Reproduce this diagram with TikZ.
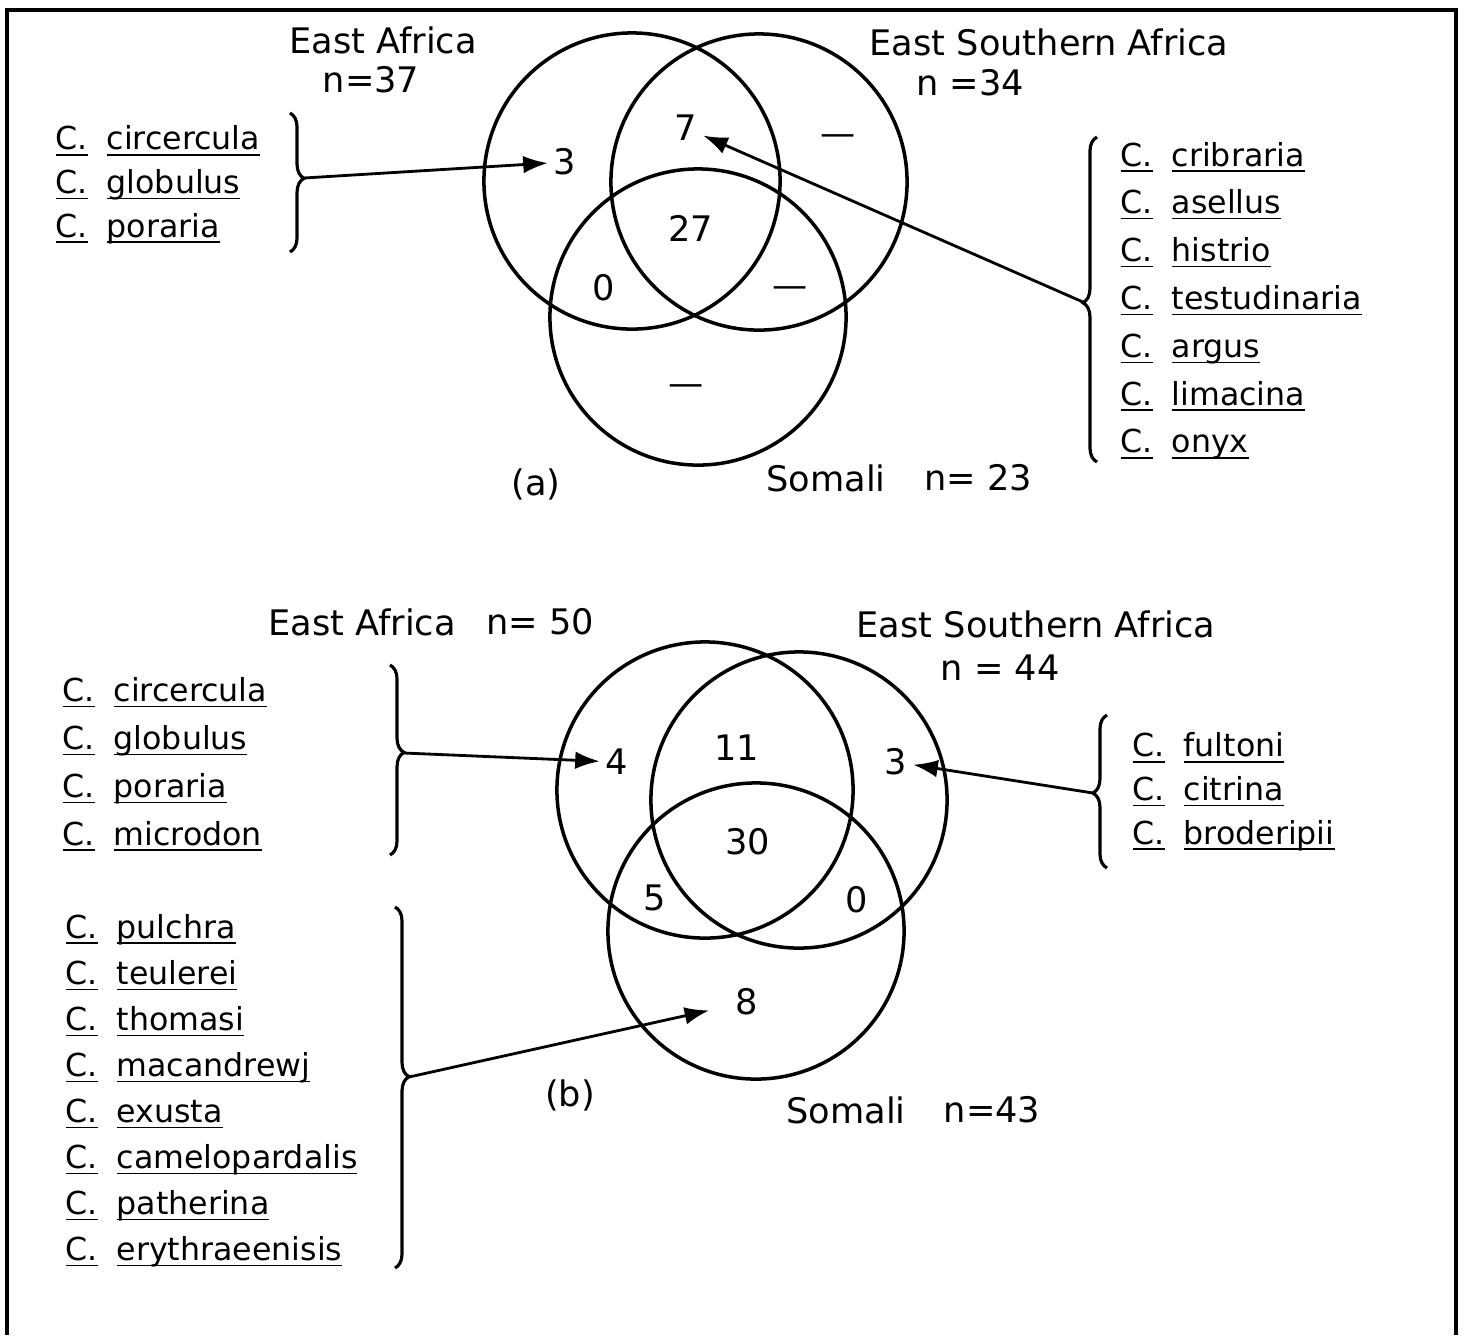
\documentclass[tikz,border=0pt]{standalone}
\usepackage{fontspec}
\setmainfont{DejaVu Sans}
\usepackage{tikz}
\usetikzlibrary{positioning, arrows.meta, decorations.pathreplacing}

\newcommand{\conus}[1]{\makebox[14.5pt][l]{\underline{\smash{C.}}}\underline{\smash{#1}}}

\tikzset{
    venn/.style={circle, draw, line width=1pt, minimum size=2.96cm, inner sep=0pt},
    region/.style={font=\fontsize{10}{12}\selectfont, inner sep=1.5pt},
    heading/.style={font=\fontsize{10}{12}\selectfont, inner sep=0pt},
    species/.style={align=left, anchor=west, inner sep=0pt},
    bracebar/.style={decorate, line width=0.9pt},
    pointer/.style={line width=0.8pt, -{Latex[length=7pt, width=5pt]}}
}

\begin{document}
\begin{tikzpicture}[x=0.01cm, y=-0.01cm]
    \useasboundingbox (0,0) rectangle (1463,1335);
    \draw[line width=1pt] (7,1335) -- (7,10) -- (1456,10) -- (1456,1335);

    % (a)
    \node[venn] (eastA) at (632,181) {};
    \node[venn] (esafA) at (759,182) {};
    \node[venn] (somA) at (698,317) {};

    \node[heading] (eastAname) at (383,40) {East Africa};
    \node[heading] (eastAn) at (371,80) {n=37};
    \node[heading] (esafAname) at (1049,42) {East Southern Africa};
    \node[heading] (esafAn) at (970,83) {n =34};
    \node[heading] (somAname) at (826,478) {Somali};
    \node[heading] (somAn) at (978,478) {n= 23};
    \node[heading] (capA) at (536,484) {(a)};

    \node[region] (n3a) at (565,162) {3};
    \node[region] (n7a) at (686,128) {7};
    \node[region] (dashAa) at (838,140) {—};
    \node[region] (n27a) at (691,228) {27};
    \node[region] (n0a) at (604,288) {0};
    \node[region] (dashAb) at (790,292) {—};
    \node[region] (dashAc) at (686,390) {—};

    \node[species, font=\fontsize{9}{12.4}\selectfont] (listAleft) at (55,197) {%
      \conus{circercula}\\
      \conus{globulus}\\
      \conus{poraria}};
    \node[species, font=\fontsize{9}{13.6}\selectfont] (listAright) at (1120,313) {%
      \conus{cribraria}\\
      \conus{asellus}\\
      \conus{histrio}\\
      \conus{testudinaria}\\
      \conus{argus}\\
      \conus{limacina}\\
      \conus{onyx}};

    \draw[bracebar, decoration={brace, amplitude=4pt, aspect=0.47}] (290,113) -- (290,252);
    \coordinate (tipAleft) at (304,178);
    \draw[bracebar, decoration={brace, amplitude=4pt, aspect=0.49}] (1097,462) -- (1097,137);
    \coordinate (tipAright) at (1083,302);

    \draw[pointer] (tipAleft) -- (n3a);
    \draw[pointer] (tipAright) -- (n7a);

    % (b)
    \node[venn] (eastB) at (705,790) {};
    \node[venn] (esafB) at (799,800) {};
    \node[venn] (somB) at (756,931) {};

    \node[heading] (eastBname) at (362,622) {East Africa};
    \node[heading] (eastBn) at (540,622) {n= 50};
    \node[heading] (esafBname) at (1036,624) {East Southern Africa};
    \node[heading] (esafBn) at (1000,668) {n = 44};
    \node[heading] (somBname) at (846,1110) {Somali};
    \node[heading] (somBn) at (992,1110) {n=43};
    \node[heading] (capB) at (570,1095) {(b)};

    \node[region] (n4b) at (617,762) {4};
    \node[region] (n11b) at (737,748) {11};
    \node[region] (n3b) at (896,762) {3};
    \node[region] (n30b) at (748,842) {30};
    \node[region] (n5b) at (655,898) {5};
    \node[region] (n0b) at (857,900) {0};
    \node[region] (n8b) at (747,1002) {8};

    \node[species, font=\fontsize{9}{13.6}\selectfont] (listBtop) at (62,777) {%
      \conus{circercula}\\
      \conus{globulus}\\
      \conus{poraria}\\
      \conus{microdon}};
    \node[species, font=\fontsize{9}{13.1}\selectfont] (listBlow) at (65,1103) {%
      \conus{pulchra}\\
      \conus{teulerei}\\
      \conus{thomasi}\\
      \conus{macandrewj}\\
      \conus{exusta}\\
      \conus{camelopardalis}\\
      \conus{patherina}\\
      \conus{erythraeenisis}};
    \node[species, font=\fontsize{9}{12.4}\selectfont] (listBright) at (1132,804) {%
      \conus{fultoni}\\
      \conus{citrina}\\
      \conus{broderipii}};

    \draw[bracebar, decoration={brace, amplitude=4pt, aspect=0.46}] (390,665) -- (390,855);
    \coordinate (tipBtop) at (404,753);
    \draw[bracebar, decoration={brace, amplitude=4pt, aspect=0.47}] (395,907) -- (395,1268);
    \coordinate (tipBlow) at (409,1077);
    \draw[bracebar, decoration={brace, amplitude=4pt, aspect=0.49}] (1107,868) -- (1107,715);
    \coordinate (tipBright) at (1093,793);

    \draw[pointer] (tipBtop) -- (n4b);
    \draw[pointer] (tipBright) -- (n3b);
    \draw[pointer, shorten >=6pt] (tipBlow) -- (n8b);
\end{tikzpicture}
\end{document}
